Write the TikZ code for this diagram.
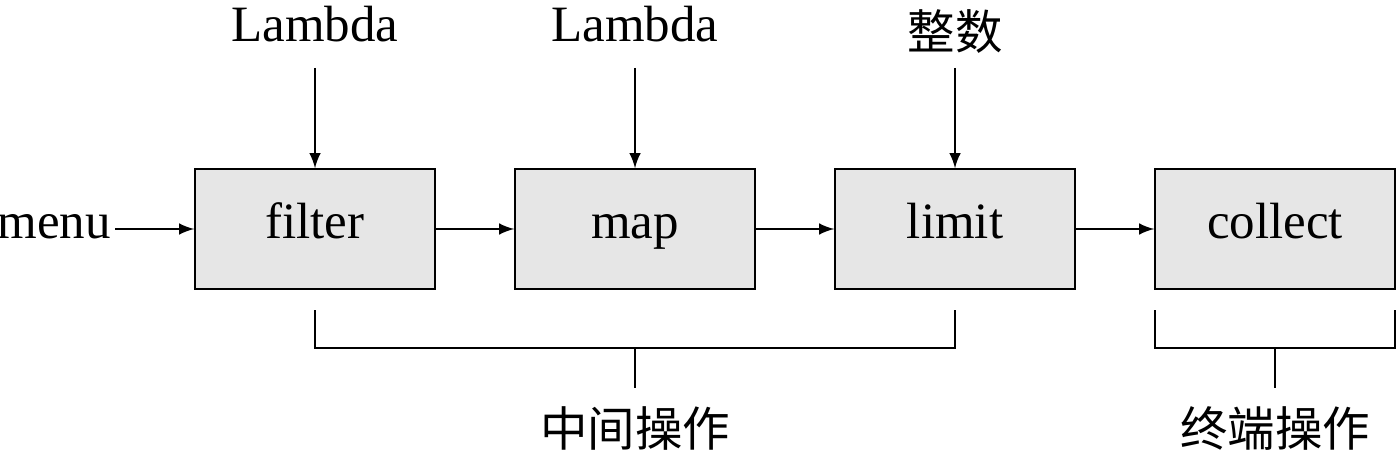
\documentclass[tikz,border=0pt]{standalone}
\usepackage{fontspec}
\setmainfont{Liberation Serif}
\newfontfamily\cjk{Noto Sans CJK SC}
\usetikzlibrary{positioning}
\definecolor{boxgray}{RGB}{230,230,230}
\tikzset{
  op-box/.style={draw=black, fill=boxgray, minimum width=2.4cm, minimum height=1.2cm,
    inner sep=0pt, text height=1.5ex, text depth=0.35ex, font=\fontsize{14.5}{17}\selectfont},
  lbl/.style={inner sep=0pt, text height=1.5ex, text depth=0.35ex, font=\fontsize{14.5}{17}\selectfont},
  cn-lbl/.style={inner sep=0pt, font=\cjk\fontsize{13.5}{16}\selectfont},
  flow/.style={-latex, line width=0.5pt},
  brace/.style={line width=0.5pt}
}
\begin{document}
\begin{tikzpicture}
  \useasboundingbox (0,0) rectangle (13.98,4.56);
  % --- operation boxes ---
  \node[op-box] (filter)  at (3.15,2.27) {filter};
  \node[op-box] (map)     at (6.35,2.27) {map};
  \node[op-box] (limit)   at (9.55,2.27) {limit};
  \node[op-box] (collect) at (12.75,2.27) {collect};
  \node[lbl] (menu) at (0.54,2.27) {menu};
  % --- inputs on top ---
  \node[lbl] (lam1) at (3.15,4.24) {Lambda};
  \node[lbl] (lam2) at (6.35,4.24) {Lambda};
  \node[cn-lbl] (num) at (9.55,4.24) {整数};
  \foreach \a/\b in {lam1/filter,lam2/map,num/limit}
    \draw[flow] (\b.north |- 0,3.88) -- (\b.north);
  % --- main chain ---
  \draw[flow] (1.15,2.27) -- (filter.west);
  \draw[flow] (filter) -- (map);
  \draw[flow] (map) -- (limit);
  \draw[flow] (limit) -- (collect);
  % --- brackets ---
  \coordinate (mid) at (6.35,1.08);
  \coordinate (end) at (12.75,1.08);
  \draw[brace] (3.15,1.46) |- (9.55,1.08) -- (9.55,1.46);
  \draw[brace] (mid) -- ++(0,-0.4);
  \draw[brace] (11.55,1.46) |- (13.95,1.08) -- (13.95,1.46);
  \draw[brace] (end) -- ++(0,-0.4);
  \node[cn-lbl] (inter) at (6.35,0.28) {中间操作};
  \node[cn-lbl] (term)  at (12.75,0.28) {终端操作};
\end{tikzpicture}
\end{document}
